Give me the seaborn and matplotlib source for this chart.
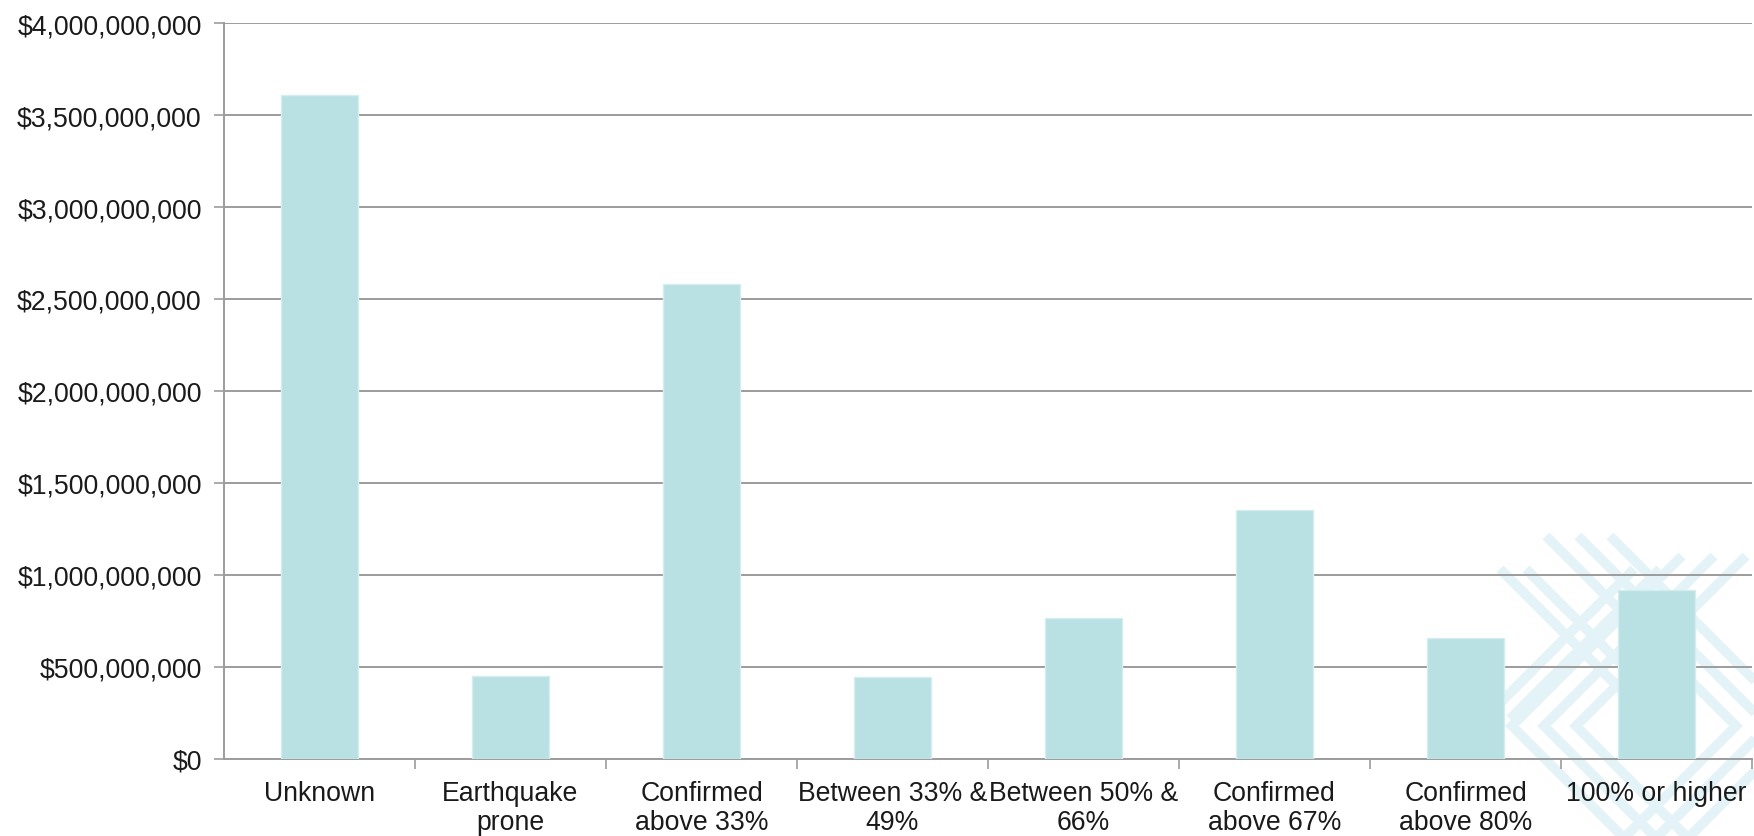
import matplotlib
matplotlib.use("Agg")
import matplotlib.pyplot as plt
import seaborn as sns
import pandas as pd
import numpy as np
from matplotlib.lines import Line2D
from matplotlib.ticker import FuncFormatter, MultipleLocator

categories = [
    "Unknown",
    "Earthquake\nprone",
    "Confirmed\nabove 33%",
    "Between 33% &\n49%",
    "Between 50% &\n66%",
    "Confirmed\nabove 67%",
    "Confirmed\nabove 80%",
    "100% or higher",
]
values = [3.609e9, 0.453e9, 2.583e9, 0.444e9, 0.766e9, 1.352e9, 0.659e9, 0.917e9]

sns.set_theme(style="white")
plt.rcParams["font.family"] = ["Liberation Sans", "DejaVu Sans"]

W, H = 1754, 837
fig = plt.figure(figsize=(W / 100, H / 100), dpi=100)
fig.patch.set_facecolor("white")

# faint lattice watermark in the lower right corner (pixel coordinates)
wm = "#e3f3f8"
def poly(xs, ys, lw=7):
    fig.add_artist(Line2D([x / W for x in xs], [1 - y / H for y in ys],
                          color=wm, lw=lw, zorder=0, solid_capstyle="butt",
                          solid_joinstyle="miter"))

cy = 727
for k in range(3):
    off = 32 * k
    # nested left-pointing chevrons
    tip = 1512 + off
    poly([tip + 170, tip, tip + 170], [cy - 170, cy, cy + 170])
    # nested right-pointing chevrons entering from the right edge
    tip_r = 1800 - off
    poly([tip_r - 190, tip_r, tip_r - 190], [cy - 190, cy, cy + 190])
for k in range(2):
    off = 26 * k
    # crossing diagonals
    poly([1500 + off, 1650 + off], [570, 720])
    poly([1660 - off, 1510 - off], [570, 720])

ax = fig.add_axes([224 / W, 1 - 760 / H, (1752 - 224) / W, (760 - 24) / H])
ax.set_facecolor("none")

df = pd.DataFrame({"category": categories, "value": values})
sns.barplot(data=df, x="category", y="value", color="#b9e0e3", saturation=1,
            width=0.4, edgecolor="#d4eef0", linewidth=1, ax=ax, zorder=3)

ax.set_ylim(0, 4e9)
ax.set_xlim(-0.5, len(categories) - 0.5)
ax.yaxis.set_major_locator(MultipleLocator(5e8))
ax.yaxis.set_major_formatter(FuncFormatter(lambda v, p: f"${v:,.0f}"))
ax.grid(axis="y", color="#9c9c9c", linewidth=1.4, zorder=1)
ax.set_axisbelow(True)

ax.set_xticks(np.arange(len(categories)) + 0.5, minor=True)
ax.set_xticks(np.arange(len(categories)))
ax.set_xticklabels(categories, linespacing=1.15)
ax.tick_params(axis="x", which="major", length=0, pad=15, labelsize=19.2, labelcolor="#1a1a1a")
ax.tick_params(axis="x", which="minor", length=7, width=1.2, color="#9c9c9c", direction="out")
ax.tick_params(axis="y", length=7, width=1.2, color="#9c9c9c", direction="out", pad=9,
               labelsize=19.2, labelcolor="#1a1a1a")
ax.tick_params(axis="both", bottom=True, left=True)
ax.xaxis.set_tick_params(which="minor", bottom=True)

for s in ["top", "right"]:
    ax.spines[s].set_visible(False)
for s in ["left", "bottom"]:
    ax.spines[s].set_color("#9c9c9c")
    ax.spines[s].set_linewidth(1.4)

ax.set_xlabel("")
ax.set_ylabel("")

fig.savefig("out.png", dpi=100, facecolor="white")
